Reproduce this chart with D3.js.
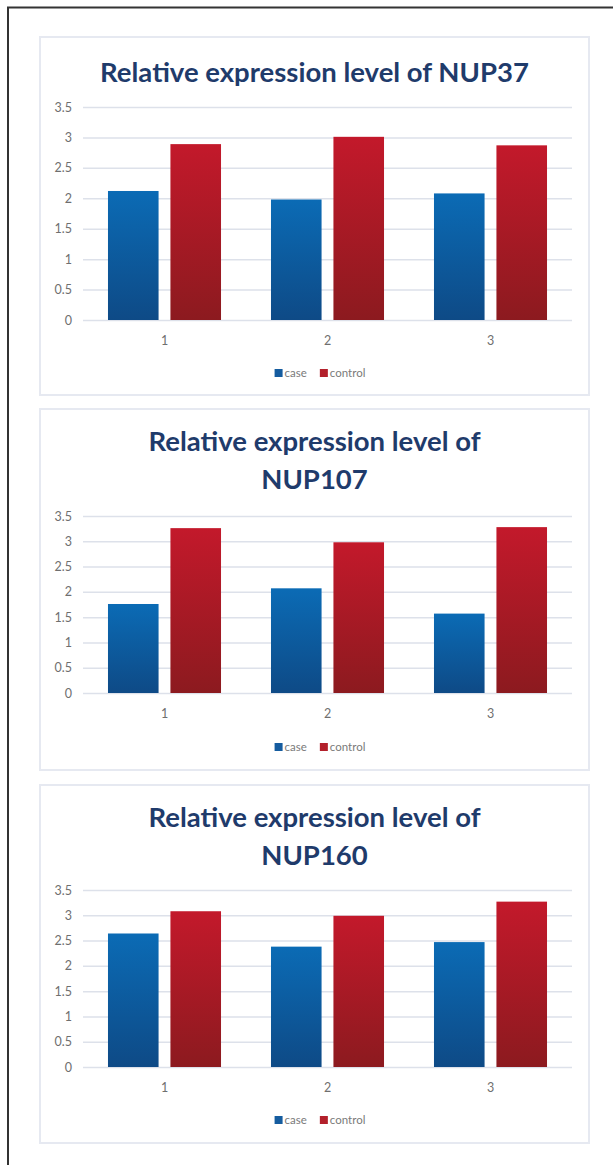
<!DOCTYPE html>
<html>
<head>
<meta charset="utf-8">
<script src="https://cdn.jsdelivr.net/npm/d3@7"></script>
<style>
  body { margin: 0; background: #fff; }
  svg { display: block; }
</style>
</head>
<body>
<div id="wrapper"></div>
<script>
// data
const categories = ["1", "2", "3"]
const seriesNames = ["case", "control"]
const yTicks = [0, 0.5, 1, 1.5, 2, 2.5, 3, 3.5]

const nup37Case = [2.12, 1.98, 2.08]
const nup37Control = [2.89, 3.01, 2.87]
const nup107Case = [1.76, 2.07, 1.57]
const nup107Control = [3.26, 2.98, 3.28]
const nup160Case = [2.64, 2.38, 2.47]
const nup160Control = [3.08, 2.99, 3.27]

const titleNup37 = ["Relative expression level of NUP37"]
const titleNup107 = ["Relative expression level of", "NUP107"]
const titleNup160 = ["Relative expression level of", "NUP160"]

// layout of each panel (pixels)
const panels = [
  { title: titleNup37, values: [nup37Case, nup37Control],
    boxTop: 37, boxBottom: 395, titleY: [82], plotTop: 107, plotBottom: 320, legendY: 373 },
  { title: titleNup107, values: [nup107Case, nup107Control],
    boxTop: 409, boxBottom: 770, titleY: [451, 489], plotTop: 516, plotBottom: 693, legendY: 747 },
  { title: titleNup160, values: [nup160Case, nup160Control],
    boxTop: 785, boxBottom: 1143, titleY: [827, 865], plotTop: 890, plotBottom: 1067, legendY: 1120 },
]

const dimensions = {
  width: 613,
  height: 1165,
  boxLeft: 40,
  boxRight: 589,
  plotLeft: 83,
  plotRight: 572,
}

const colors = {
  case: ["#0b6bb5", "#0e4a86"],
  control: ["#c3192b", "#8c1a1f"],
}
const legendColors = { case: "#155c9f", control: "#b3202b" }

const wrapper = d3.select("#wrapper")
  .append("svg")
  .attr("width", dimensions.width)
  .attr("height", dimensions.height)

// gradients for the bars
const defs = wrapper.append("defs")
seriesNames.forEach(name => {
  const grad = defs.append("linearGradient")
    .attr("id", "grad-" + name)
    .attr("x1", 0).attr("y1", 0).attr("x2", 0).attr("y2", 1)
  grad.append("stop").attr("offset", "0%").attr("stop-color", colors[name][0])
  grad.append("stop").attr("offset", "100%").attr("stop-color", colors[name][1])
})

// outer frame (top and left only)
wrapper.append("line")
  .attr("x1", 7).attr("x2", dimensions.width)
  .attr("y1", 7.5).attr("y2", 7.5)
  .attr("stroke", "#333").attr("stroke-width", 2)
wrapper.append("line")
  .attr("x1", 8).attr("x2", 8)
  .attr("y1", 7).attr("y2", dimensions.height)
  .attr("stroke", "#333").attr("stroke-width", 2)

const xScale = d3.scaleBand()
  .domain(categories)
  .range([dimensions.plotLeft, dimensions.plotRight])
  .padding(0)

const seriesScale = d3.scaleBand()
  .domain(seriesNames)
  .range([0, xScale.bandwidth()])
  .paddingInner(0.19)
  .paddingOuter(0.4)

panels.forEach(p => {
  const g = wrapper.append("g")

  // panel box
  g.append("rect")
    .attr("x", dimensions.boxLeft)
    .attr("y", p.boxTop)
    .attr("width", dimensions.boxRight - dimensions.boxLeft)
    .attr("height", p.boxBottom - p.boxTop)
    .attr("fill", "#fff")
    .attr("stroke", "#e6e9f1")
    .attr("stroke-width", 2)

  // title
  p.title.forEach((line, i) => {
    g.append("text")
      .attr("x", (dimensions.boxLeft + dimensions.boxRight) / 2)
      .attr("y", p.titleY[i])
      .attr("text-anchor", "middle")
      .attr("fill", "#1f3b6b")
      .style("font-family", "Lato, 'Open Sans', sans-serif")
      .style("font-weight", "bold")
      .style("font-size", "27.5px")
      .text(line)
  })

  const yScale = d3.scaleLinear()
    .domain([0, 3.5])
    .range([p.plotBottom, p.plotTop])

  // grid + y labels
  const yAxisGenerator = d3.axisLeft(yScale)
    .tickValues(yTicks)
    .tickFormat(d3.format("~g"))
    .tickSize(-(dimensions.plotRight - dimensions.plotLeft))
    .tickPadding(11)

  const yAxis = g.append("g")
    .attr("transform", `translate(${dimensions.plotLeft},0)`)
    .call(yAxisGenerator)
  yAxis.select(".domain").remove()
  yAxis.selectAll("line")
    .attr("stroke", "#dde1ea")
    .attr("stroke-width", 1.5)
  yAxis.selectAll("text")
    .attr("fill", "#6f6f6f")
    .style("font-family", "Lato, sans-serif")
    .style("font-size", "12.5px")

  // bars
  const groups = g.selectAll(".cat")
    .data(categories)
    .join("g")
    .attr("transform", d => `translate(${xScale(d)},0)`)

  groups.selectAll("rect")
    .data((d, i) => seriesNames.map((name, s) => ({ name, value: p.values[s][i] })))
    .join("rect")
    .attr("x", d => seriesScale(d.name))
    .attr("width", seriesScale.bandwidth())
    .attr("y", d => yScale(d.value))
    .attr("height", d => yScale(0) - yScale(d.value))
    .attr("fill", d => `url(#grad-${d.name})`)

  // x labels
  const xAxisGenerator = d3.axisBottom(xScale)
    .tickSize(0)
    .tickPadding(16)
  const xAxis = g.append("g")
    .attr("transform", `translate(0,${p.plotBottom})`)
    .call(xAxisGenerator)
  xAxis.select(".domain").remove()
  xAxis.selectAll("text")
    .attr("fill", "#6f6f6f")
    .style("font-family", "Lato, sans-serif")
    .style("font-size", "12.5px")

  // legend
  const legend = g.append("g")
  let lx = 0
  seriesNames.forEach(name => {
    legend.append("rect")
      .attr("x", lx).attr("y", p.legendY - 4)
      .attr("width", 8).attr("height", 8)
      .attr("fill", legendColors[name])
    const t = legend.append("text")
      .attr("x", lx + 10)
      .attr("y", p.legendY + 4)
      .attr("fill", "#7a7a7a")
      .style("font-family", "Lato, sans-serif")
      .style("font-size", "11.5px")
      .text(name)
    lx += 10 + t.node().getComputedTextLength() + 13
  })
  const bb = legend.node().getBBox()
  legend.attr("transform", `translate(${320 - bb.width / 2},0)`)
})
</script>
</body>
</html>
